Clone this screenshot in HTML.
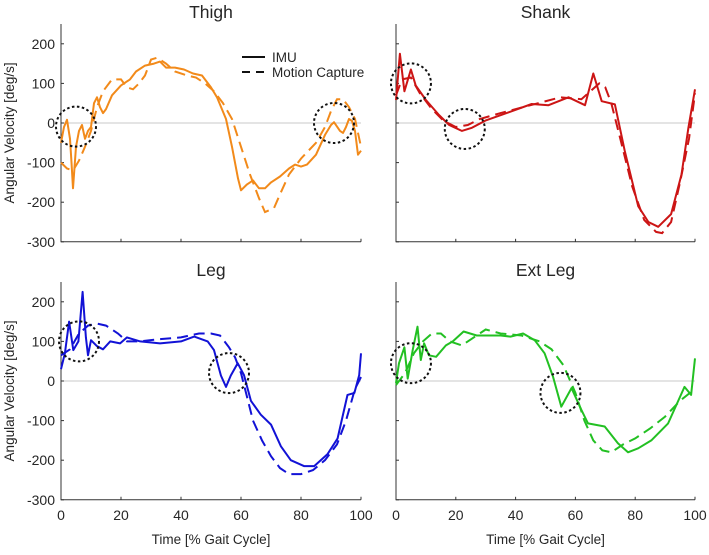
<!DOCTYPE html>
<html><head><meta charset="utf-8"><style>
body{margin:0;background:#fff}
svg text{font-family:"Liberation Sans",Arial,sans-serif;fill:#262626}
</style></head><body>
<svg id="c" width="709" height="550" xmlns="http://www.w3.org/2000/svg"></svg>
<script>
const xTicks=[0,20,40,60,80,100];
const yTicks=[-300,-200,-100,0,100,200];
const thighT=[0,1,2,3,3.5,4,5,6,7,8,9,10,11,12,13,14,15,17,20,23,25,28,31,33,35,38,41,44,47,50,52,55,57,59,60,62,64,66,68,70,73,76,78,80,82,85,88,90,91,93,94,95,96,97,98,99,100];
const thighIMU=[-50,-10,8,-40,-100,-165,-60,-20,-5,-40,-20,-10,50,65,40,25,35,70,95,110,130,145,150,155,140,140,135,125,120,90,65,10,-60,-140,-170,-155,-145,-165,-165,-150,-135,-115,-105,-110,-105,-80,-30,-5,2,-20,-25,-10,10,5,-20,-80,-70];
const thighMT=[0,2,4,6,8,10,12,14,17,20,22,24,26,28,30,32,35,38,42,45,48,51,54,57,60,63,66,68,71,73,76,80,85,88,90,92,94,96,98,100];
const thighMoCap=[-100,-115,-120,-95,-60,-20,40,80,110,110,90,85,100,120,160,165,150,130,120,115,100,80,50,10,-60,-130,-190,-225,-215,-180,-130,-90,-50,-10,30,60,60,40,10,-60];
const shankT=[0,1.3,2.8,5,6.6,10,14.4,17.8,22,25.4,29.9,37.7,45.4,51,57.7,63.2,66,68.8,73.2,76.5,81,84.4,87.7,92,95.5,97.8,100];
const shankIMU=[58,175,80,135,95,58,20,-5,-20,-12,6,27,48,45,65,45,125,55,47,-70,-210,-250,-262,-230,-130,-12,85];
const shankMT=[0,2,5,8,12,16,20,24,28,35,45,55,62,65,68,70,72,75,79,83,87,89,92,95,98,100];
const shankMoCap=[70,110,115,75,35,5,-10,-5,10,25,45,65,60,80,100,90,50,-40,-160,-245,-275,-278,-250,-150,-40,75];
const legT=[0,1.3,2.7,4.1,5.8,7.2,8.3,9,10,12,14,16.4,19.7,22,26.4,33,40,44.4,48.9,51,53.3,55,56.6,58.9,61,63.3,66.6,70,73.3,76.6,81,84.4,88.8,92.2,95.5,97.8,99.4,100];
const legIMU=[30,70,150,78,100,225,110,65,103,88,80,100,95,110,100,95,100,112,100,78,14,-15,14,45,15,-50,-85,-110,-165,-200,-215,-215,-185,-145,-35,-30,15,70];
const legMT=[0,3,6,9,12,15,19,22,26,32,40,46,50,53,56,58,60,62,64,67,70,73,76,80,84,88,92,95,98,100];
const legMoCap=[65,80,120,140,145,140,120,100,100,105,110,120,120,115,85,60,20,-40,-100,-150,-190,-220,-235,-235,-225,-200,-160,-100,-20,10];
const extT=[0,1,2.8,3.9,5.6,7.2,8.3,9.4,11,13.4,16.7,19,22.6,27,35,38.3,42.5,46.4,49.7,52.5,55.3,58.7,62,64.2,69.8,74.2,77.6,81,85.4,91,96.5,98.7,100];
const extIMU=[-5,45,85,6,78,137,53,95,65,61,90,100,125,115,115,112,120,103,70,11,-65,-18,-73,-107,-115,-157,-180,-170,-150,-107,-15,-35,57];
const extMT=[0,3,6,9,12,15,18,22,25,30,35,42,48,52,56,60,63,66,69,72,76,80,85,90,95,100];
const extMoCap=[-10,20,70,100,120,120,100,90,105,130,120,115,100,80,40,-30,-100,-150,-175,-180,-160,-145,-120,-90,-50,-20];
const circleX=[[5,91],[5,23],[6,56],[5,55]];
const circleY=[[-9,0],[100,-15],[100,20],[45,-30]];
const titles=["Thigh","Shank","Leg","Ext Leg"];
const colors=["#f28a1a","#cc1515","#1212d6","#22c022"];

const NS="http://www.w3.org/2000/svg";
const svg=document.getElementById('c');
function mk(tag,attrs,parent){const e=document.createElementNS(NS,tag);for(const k in attrs)e.setAttribute(k,attrs[k]);(parent||svg).appendChild(e);return e;}
const panels=[
 {x0:61,x1:361,y0:123,top:24,ylab:true,xlab:false},
 {x0:396,x1:695,y0:123,top:24,ylab:false,xlab:false},
 {x0:61,x1:361,y0:381,top:282,ylab:true,xlab:true},
 {x0:396,x1:695,y0:381,top:282,ylab:false,xlab:true}];
const data=[[thighT,thighIMU,thighMT,thighMoCap],[shankT,shankIMU,shankMT,shankMoCap],[legT,legIMU,legMT,legMoCap],[extT,extIMU,extMT,extMoCap]];
const ppu=39.6/100;
panels.forEach((p,i)=>{
 const g=mk('g',{});
 
 
 const sx=v=>p.x0+(p.x1-p.x0)*v/100;
 const sy=v=>p.y0-v*ppu;
 const bot=sy(-300);
 const t=mk('text',{x:(p.x0+p.x1)/2,y:p.top-6,'text-anchor':'middle','font-size':17.5},g);t.textContent=titles[i];
 
 
 const z=mk('line',{x1:p.x0,x2:p.x1,y1:sy(0),y2:sy(0),stroke:'#c8c8c8','stroke-width':1},g);
 
 
 const ax=mk('path',{d:`M${p.x0},${p.top}V${bot}H${p.x1}`,fill:'none',stroke:'#333','stroke-width':1},g);
 
 
 xTicks.forEach(v=>{mk('line',{x1:sx(v),x2:sx(v),y1:bot,y2:bot-3,stroke:'#333'},g);
  if(p.xlab){const tt=mk('text',{x:sx(v),y:bot+20,'text-anchor':'middle','font-size':14},g);tt.textContent=v;
   
   }});
 yTicks.forEach(v=>{mk('line',{x1:p.x0,x2:p.x0+3,y1:sy(v),y2:sy(v),stroke:'#333'},g);
  if(p.ylab){const tt=mk('text',{x:p.x0-6,y:sy(v)+5,'text-anchor':'end','font-size':14},g);tt.textContent=v;
   
   }});
 if(p.ylab){const yl=mk('text',{transform:`translate(14,${(p.top+bot)/2}) rotate(-90)`,'text-anchor':'middle','font-size':13.5},g);yl.textContent='Angular Velocity [deg/s]';
  
  }
 if(p.xlab){const xl=mk('text',{x:(p.x0+p.x1)/2,y:544,'text-anchor':'middle','font-size':13.5},g);xl.textContent='Time [% Gait Cycle]';
  
  }
 const [t1,v1,t2,v2]=data[i];
 const line=(ts,vs)=>ts.map((tv,k)=>(k?'L':'M')+sx(tv).toFixed(1)+','+sy(vs[k]).toFixed(1)).join('');
 const mc=mk('path',{d:line(t2,v2),fill:'none',stroke:colors[i],'stroke-width':2,'stroke-dasharray':'11,6'},g);
 
 
 const im=mk('path',{d:line(t1,v1),fill:'none',stroke:colors[i],'stroke-width':2,'stroke-linejoin':'round'},g);
 
 
 circleX[i].forEach((cx,k)=>{const c=mk('circle',{cx:sx(cx),cy:sy(circleY[i][k]),r:20,fill:'none',stroke:'#111','stroke-width':2,'stroke-dasharray':'2.5,2.5'},g);
  
  });
});
const lg=mk('g',{});


mk('line',{x1:242,x2:265,y1:57,y2:57,stroke:'#111','stroke-width':2},lg);
mk('line',{x1:242,x2:265,y1:72,y2:72,stroke:'#111','stroke-width':2,'stroke-dasharray':'8,6'},lg);
const l1=mk('text',{x:272,y:62,'font-size':13.5},lg);l1.textContent='IMU';


const l2=mk('text',{x:272,y:77,'font-size':13.5},lg);l2.textContent='Motion Capture';


</script>
</body></html>
